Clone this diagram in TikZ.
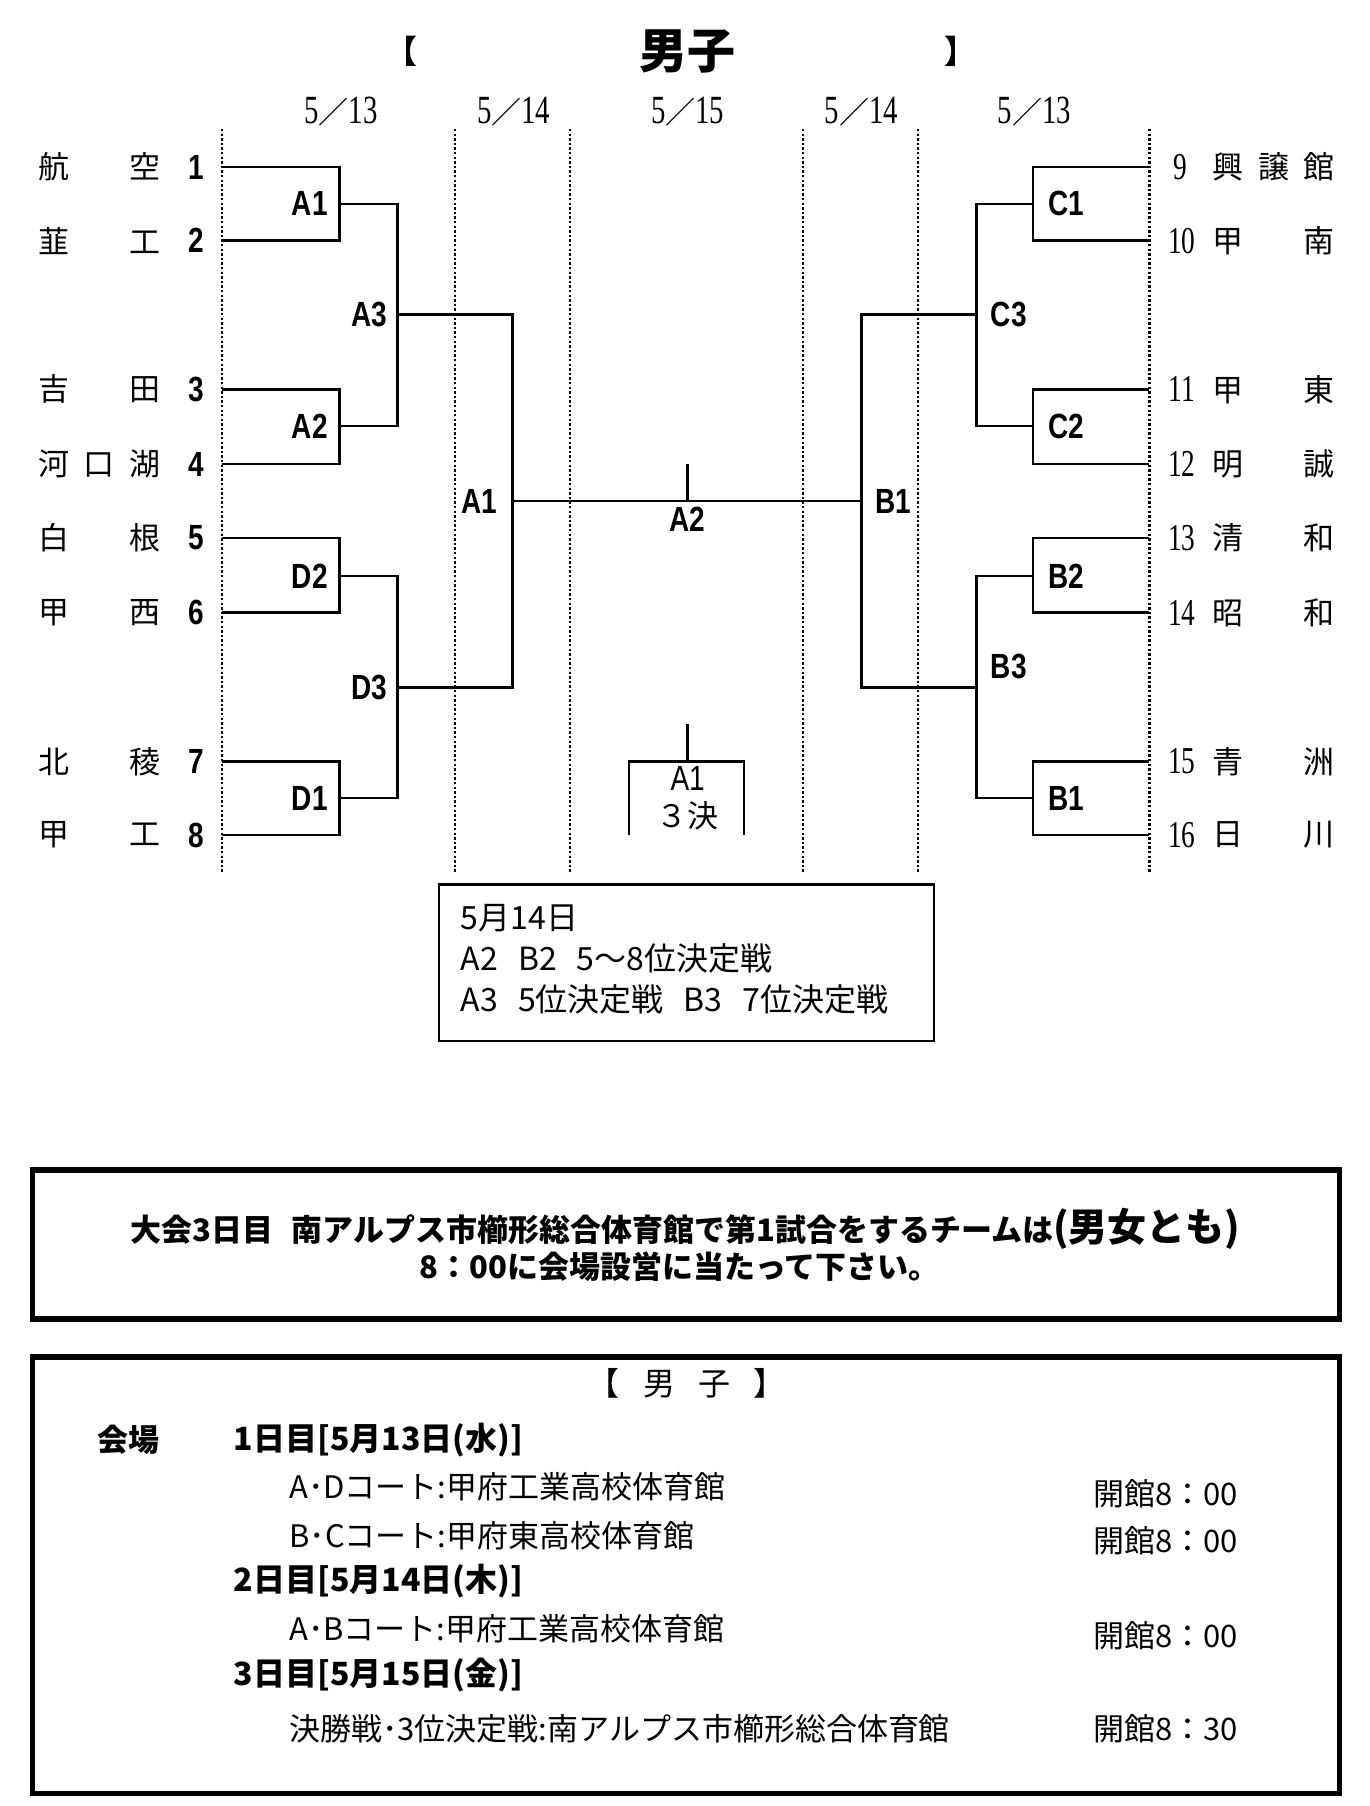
\documentclass[tikz,border=0pt]{standalone}
\usepackage{fontspec}
\setmainfont{Noto Sans CJK JP}
\newfontfamily\narrowsf{Liberation Sans}[FakeStretch=0.8]
\newfontfamily\narrowrm{Liberation Serif}[FakeStretch=0.72]
\newcommand{\fsz}[1]{\fontsize{#1}{#1}\selectfont}
\newcommand{\md}[2]{{\narrowrm\fsz{40}#1}{\fsz{30}／}{\narrowrm\fsz{40}#2}}
\newcommand{\tname}[1]{\makebox[122pt]{#1}}
\usetikzlibrary{positioning}

\begin{document}
\begin{tikzpicture}[x=1.1522pt,y=-1.1522pt,
  link/.style={line width=2.6pt},
  sep/.style={line width=2.4pt,dash pattern=on 2.4pt off 2.2pt},
  frame/.style={line width=5.5pt},
  school/.style={inner sep=0pt,font=\fsz{31}},
  numl/.style={inner sep=0pt,font=\narrowsf\bfseries\fsz{35}},
  numr/.style={inner sep=0pt,font=\narrowrm\fsz{38}},
  game/.style={inner sep=0pt,font=\narrowsf\bfseries\fsz{35}},
  day/.style={inner sep=0pt}]
  \useasboundingbox (0,0) rectangle (1189,1568);

  % title and days
  \node[font=\bfseries\fsz{48}] (title) at (597,45) {男子};
  \node[font=\bfseries\fsz{32}] (tl) at (349,45) {【};
  \node[font=\bfseries\fsz{32}] (tr) at (834,45) {】};
  \node[day] (d1) at (296,97) {\md{5}{13}};
  \node[day] (d2) at (446,97) {\md{5}{14}};
  \node[day] (d3) at (597,97) {\md{5}{15}};
  \node[day] (d4) at (748,97) {\md{5}{14}};
  \node[day] (d5) at (898,97) {\md{5}{13}};

  \draw[sep] (193,112) -- (193,758) (395,112) -- (395,758) (495,112) -- (495,758)
    (697,112) -- (697,758) (797,112) -- (797,758) (998,112) -- (998,758);

  % left side
  \node[school] (n1) at (86,145) {\tname{航\hfill 空}};
  \node[school] (n2) at (86,209) {\tname{韮\hfill 工}};
  \node[school] (n3) at (86,338) {\tname{吉\hfill 田}};
  \node[school] (n4) at (86,403) {\tname{河\hfill 口\hfill 湖}};
  \node[school] (n5) at (86,467) {\tname{白\hfill 根}};
  \node[school] (n6) at (86,532) {\tname{甲\hfill 西}};
  \node[school] (n7) at (86,661) {\tname{北\hfill 稜}};
  \node[school] (n8) at (86,725) {\tname{甲\hfill 工}};
  \node[numl] (s1) at (170,145) {1};
  \node[numl] (s2) at (170,209) {2};
  \node[numl] (s3) at (170,338) {3};
  \node[numl] (s4) at (170,403) {4};
  \node[numl] (s5) at (170,467) {5};
  \node[numl] (s6) at (170,532) {6};
  \node[numl] (s7) at (170,661) {7};
  \node[numl] (s8) at (170,725) {8};
  \coordinate (t1) at (193,145);
  \coordinate (t2) at (193,209);
  \coordinate (t3) at (193,338);
  \coordinate (t4) at (193,403);
  \coordinate (t5) at (193,467);
  \coordinate (t6) at (193,532);
  \coordinate (t7) at (193,661);
  \coordinate (t8) at (193,725);

  % right side
  \node[numr] (s9) at (1025,145) {9};
  \node[numr] (s10) at (1026,209) {10};
  \node[numr] (s11) at (1026,338) {11};
  \node[numr] (s12) at (1026,403) {12};
  \node[numr] (s13) at (1026,467) {13};
  \node[numr] (s14) at (1026,532) {14};
  \node[numr] (s15) at (1026,661) {15};
  \node[numr] (s16) at (1026,725) {16};
  \node[school] (n9) at (1106,145) {\tname{興\hfill 譲\hfill 館}};
  \node[school] (n10) at (1106,209) {\tname{甲\hfill 南}};
  \node[school] (n11) at (1106,338) {\tname{甲\hfill 東}};
  \node[school] (n12) at (1106,403) {\tname{明\hfill 誠}};
  \node[school] (n13) at (1106,467) {\tname{清\hfill 和}};
  \node[school] (n14) at (1106,532) {\tname{昭\hfill 和}};
  \node[school] (n15) at (1106,661) {\tname{青\hfill 洲}};
  \node[school] (n16) at (1106,725) {\tname{日\hfill 川}};
  \coordinate (t9) at (998,145);
  \coordinate (t10) at (998,209);
  \coordinate (t11) at (998,338);
  \coordinate (t12) at (998,403);
  \coordinate (t13) at (998,467);
  \coordinate (t14) at (998,532);
  \coordinate (t15) at (998,661);
  \coordinate (t16) at (998,725);

  % match points
  \coordinate (mA1) at (295,177);
  \coordinate (mA2) at (295,370);
  \coordinate (mD2) at (295,500);
  \coordinate (mD1) at (295,693);
  \coordinate (mA3) at (345,273);
  \coordinate (mD3) at (345,597);
  \coordinate (sA1) at (445,435);
  \coordinate (mC1) at (897,177);
  \coordinate (mC2) at (897,370);
  \coordinate (mB2) at (897,500);
  \coordinate (mB1) at (897,693);
  \coordinate (mC3) at (848,273);
  \coordinate (mB3) at (848,597);
  \coordinate (sB1) at (748,435);
  \coordinate (fin) at (597,435);
  \coordinate (fintop) at (597,403);
  \coordinate (thtop) at (597,629);
  \coordinate (th) at (597,661);
  \coordinate (thl) at (546,725);
  \coordinate (thr) at (646,725);

  \draw[link] (t1) -| (mA1) |- (t2);
  \draw[link] (t3) -| (mA2) |- (t4);
  \draw[link] (t5) -| (mD2) |- (t6);
  \draw[link] (t7) -| (mD1) |- (t8);
  \draw[link] (mA1) -| (mA3) |- (mA2);
  \draw[link] (mD2) -| (mD3) |- (mD1);
  \draw[link] (mA3) -| (sA1) |- (mD3);
  \draw[link] (t9) -| (mC1) |- (t10);
  \draw[link] (t11) -| (mC2) |- (t12);
  \draw[link] (t13) -| (mB2) |- (t14);
  \draw[link] (t15) -| (mB1) |- (t16);
  \draw[link] (mC1) -| (mC3) |- (mC2);
  \draw[link] (mB2) -| (mB3) |- (mB1);
  \draw[link] (mC3) -| (sB1) |- (mB3);
  \draw[link] (sA1) -- (sB1);
  \draw[link] (fintop) -- (fin);
  \draw[link] (thtop) -- (th);
  \draw[link] (thl) |- (th) -| (thr);

  \node[game,left=12pt of mA1] (gA1) {A1};
  \node[game,left=12pt of mA2] (gA2) {A2};
  \node[game,left=12pt of mD2] (gD2) {D2};
  \node[game,left=12pt of mD1] (gD1) {D1};
  \node[game,left=10pt of mA3] (gA3) {A3};
  \node[game,left=10pt of mD3] (gD3) {D3};
  \node[game,left=15pt of sA1] (gsA1) {A1};
  \node[game,right=15pt of mC1] (gC1) {C1};
  \node[game,right=15pt of mC2] (gC2) {C2};
  \node[game,right=15pt of mB2] (gB2) {B2};
  \node[game,right=15pt of mB1] (gB1) {B1};
  \node[game,right=14pt of mC3] (gC3) {C3};
  \node[game,right=14pt of mB3,yshift=21pt] (gB3) {B3};
  \node[game,right=14pt of sB1] (gsB1) {B1};
  \node[game,below=6pt of fin] (gfin) {A2};
  \node[game,font=\narrowsf\fsz{35},below=5pt of th] (gth) {A1};
  \node[inner sep=0pt,font=\fsz{31},below=10pt of gth] (gth2) {３決};

  % notes
  \draw[line width=2.5pt] (381,768) rectangle (811,904);
  \node[anchor=north west,align=left,inner sep=0pt,font=\fontsize{32}{41}\selectfont]
    (info) at (400,785) {5月14日\\
    A2\hspace{20pt}B2\hspace{20pt}5～8位決定戦\\
    A3\hspace{20pt}5位決定戦\hspace{20pt}B3\hspace{20pt}7位決定戦};

  \draw[frame] (28,1016) rectangle (1163,1145);
  \node[font=\bfseries\fsz{31}] (note1) at (595,1067)
    {大会3日目\hspace{.6em}南アルプス市櫛形総合体育館で第1試合をするチームは{\fsz{39}(男女とも)}};
  \node[font=\bfseries\fsz{31}] (note2) at (590,1100) {8：00に会場設営に当たって下さい。};

  \draw[frame] (28,1178) rectangle (1163,1557);
  \node[font=\fsz{32}] (head) at (596,1201) {【\hspace{24pt}男\hspace{23pt}子\hspace{23pt}】};
  \node[anchor=west,font=\bfseries\fsz{31}] (venue) at (82,1250) {会場};
  \node[anchor=west,font=\bfseries\fsz{32}] (day1) at (200,1250) {1日目[5月13日(水)]};
  \node[anchor=west,font=\fsz{31}] (c1) at (248,1291) {A･Dコート:甲府工業高校体育館};
  \node[anchor=west,font=\fsz{31}] (o1) at (946,1297) {開館8：00};
  \node[anchor=west,font=\fsz{31}] (c2) at (248,1333) {B･Cコート:甲府東高校体育館};
  \node[anchor=west,font=\fsz{31}] (o2) at (946,1338) {開館8：00};
  \node[anchor=west,font=\bfseries\fsz{32}] (day2) at (200,1373) {2日目[5月14日(木)]};
  \node[anchor=west,font=\fsz{31}] (c3) at (248,1414) {A･Bコート:甲府工業高校体育館};
  \node[anchor=west,font=\fsz{31}] (o3) at (946,1420) {開館8：00};
  \node[anchor=west,font=\bfseries\fsz{32}] (day3) at (200,1454) {3日目[5月15日(金)]};
  \node[anchor=west,font=\fsz{31}] (c4) at (248,1501) {決勝戦･3位決定戦:南アルプス市櫛形総合体育館};
  \node[anchor=west,font=\fsz{31}] (o4) at (946,1501) {開館8：30};
\end{tikzpicture}
\end{document}
